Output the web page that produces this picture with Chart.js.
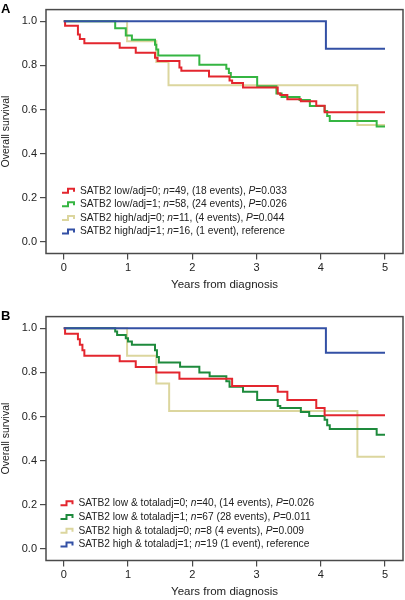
<!DOCTYPE html>
<html>
<head>
<meta charset="utf-8">
<script src="https://cdn.jsdelivr.net/npm/chart.js@4"></script>
<style>
  html, body { margin: 0; padding: 0; background: #fff; overflow: hidden; width: 405px; height: 600px; }
  .panel { position: absolute; left: 0; width: 405px; height: 300px; }
  #panel-a { top: 0; }
  #panel-b { top: 307px; }
</style>
</head>
<body>
<div class="panel" id="panel-a"><canvas id="chart-a" width="405" height="300"></canvas></div>
<div class="panel" id="panel-b"><canvas id="chart-b" width="405" height="300"></canvas></div>
<script>
// Kaplan-Meier curves (years, survival after each step)
const xTicks = [0, 1, 2, 3, 4, 5];
const yTicks = [0, 0.2, 0.4, 0.6, 0.8, 1.0];

// Panel A
const aLow0Time  = [0, 0.02, 0.22, 0.25, 0.32, 0.87, 1.12, 1.42, 1.46, 1.80, 1.83, 2.26, 2.58, 2.62, 2.79, 3.33, 3.37, 3.48, 3.69, 3.93, 4.06, 5.0];
const aLow0Surv  = [1, 0.98, 0.94, 0.92, 0.90, 0.88, 0.857, 0.835, 0.82, 0.79, 0.776, 0.75, 0.732, 0.72, 0.70, 0.673, 0.666, 0.647, 0.637, 0.617, 0.588, 0.588];
const aLow1Time  = [0, 0.80, 0.965, 1.06, 1.42, 1.44, 1.47, 2.11, 2.53, 2.57, 2.60, 3.01, 3.31, 3.39, 3.67, 3.83, 4.06, 4.10, 4.14, 4.87, 5.0];
const aLow1Surv  = [1, 0.968, 0.935, 0.916, 0.894, 0.872, 0.845, 0.803, 0.785, 0.765, 0.747, 0.705, 0.672, 0.657, 0.643, 0.616, 0.593, 0.57, 0.548, 0.523, 0.523];
const aHigh0Time = [0, 0.985, 1.44, 1.63, 4.57, 5.0];
const aHigh0Surv = [1, 0.909, 0.815, 0.71, 0.53, 0.53];
const aHigh1Time = [0, 4.08, 5.0];
const aHigh1Surv = [1, 0.875, 0.875];
const aLabels = [
  'SATB2 low/adj=0; n=49, (18 events), P=0.033',
  'SATB2 low/adj=1; n=58, (24 events), P=0.026',
  'SATB2 high/adj=0; n=11, (4 events), P=0.044',
  'SATB2 high/adj=1; n=16, (1 event), reference'
];

// Panel B
const bLow0Time  = [0, 0.02, 0.22, 0.25, 0.29, 0.32, 0.87, 1.12, 1.44, 1.80, 2.62, 3.33, 3.48, 3.93, 4.06, 5.0];
const bLow0Surv  = [1, 0.975, 0.95, 0.925, 0.90, 0.875, 0.85, 0.825, 0.80, 0.771, 0.738, 0.712, 0.675, 0.639, 0.606, 0.606];
const bLow1Time  = [0, 0.80, 0.83, 0.965, 1.00, 1.06, 1.42, 1.45, 1.48, 1.81, 2.11, 2.27, 2.53, 2.58, 2.79, 3.01, 3.33, 3.37, 3.69, 3.82, 4.06, 4.10, 4.14, 4.87, 5.0];
const bLow1Surv  = [1, 0.985, 0.97, 0.955, 0.94, 0.925, 0.90, 0.87, 0.845, 0.826, 0.80, 0.783, 0.76, 0.735, 0.712, 0.675, 0.648, 0.639, 0.62, 0.602, 0.585, 0.56, 0.543, 0.517, 0.517];
const bHigh0Time = [0, 0.985, 1.44, 1.64, 4.57, 5.0];
const bHigh0Surv = [1, 0.875, 0.75, 0.625, 0.417, 0.417];
const bHigh1Time = [0, 4.08, 5.0];
const bHigh1Surv = [1, 0.889, 0.889];
const bLabels = [
  'SATB2 low & totaladj=0; n=40, (14 events), P=0.026',
  'SATB2 low & totaladj=1; n=67 (28 events), P=0.011',
  'SATB2 high & totaladj=0; n=8 (4 events), P=0.009',
  'SATB2 high & totaladj=1; n=19 (1 event), reference'
];

const RED = '#e3262e', GREEN_A = '#35b542', GREEN_B = '#1e8a3c', KHAKI = '#dcd69e', BLUE = '#3350a5';
const FONT = '"Liberation Sans", Arial, Helvetica, sans-serif';
const INK = '#222';
const FRAME = '#4a4a4a';

function km(t, s) { return t.map((x, i) => ({ x, y: s[i] })); }

function curve(t, s, color) {
  return {
    data: km(t, s),
    borderColor: color,
    borderWidth: 2,
    stepped: true,
    pointRadius: 0,
    fill: false
  };
}

// box round the plot area, as in R
const frameBox = {
  id: 'frameBox',
  afterDatasetsDraw(chart) {
    const { ctx, chartArea: a } = chart;
    ctx.save();
    ctx.strokeStyle = FRAME;
    ctx.lineWidth = 1.5;
    ctx.strokeRect(a.left, a.top, a.right - a.left, a.bottom - a.top);
    ctx.restore();
  }
};

// legend with step glyphs and italic n / P
const stepLegend = {
  id: 'stepLegend',
  afterDraw(chart, args, opts) {
    const ctx = chart.ctx;
    ctx.save();
    ctx.textBaseline = 'middle';
    opts.rows.forEach((label, i) => {
      const y = opts.y + i * opts.gap;
      const x = opts.x;
      ctx.strokeStyle = opts.colors[i];
      ctx.lineWidth = 2;
      ctx.beginPath();
      ctx.moveTo(x, y + 2);
      ctx.lineTo(x + 6, y + 2);
      ctx.lineTo(x + 6, y - 2);
      ctx.lineTo(x + 12, y - 2);
      ctx.lineTo(x + 12, y + 1);
      ctx.stroke();
      let tx = x + opts.textGap;
      ctx.fillStyle = INK;
      label.split(/\b([nP])(?==)/).forEach((part, j) => {
        ctx.font = (j % 2 ? 'italic ' : '') + opts.size + 'px ' + FONT;
        ctx.fillText(part, tx, y);
        tx += ctx.measureText(part).width;
      });
    });
    // panel letter
    ctx.fillStyle = '#000';
    ctx.font = 'bold 13px ' + FONT;
    ctx.textBaseline = 'middle';
    ctx.fillText(opts.tag, 1, 9.5);
    ctx.restore();
  }
};

function axes() {
  const tickGrid = { drawOnChartArea: false, drawTicks: true, tickLength: 6, color: FRAME, lineWidth: 1.2 };
  return {
    x: {
      type: 'linear', min: -0.277, max: 5.28,
      afterBuildTicks: s => { s.ticks = xTicks.map(v => ({ value: v })); },
      afterFit: s => { s.height = 46.5; },
      grid: tickGrid,
      border: { display: false },
      ticks: { color: INK, font: { size: 11, family: FONT }, padding: 2, autoSkip: false, maxRotation: 0, callback: v => String(v) },
      title: { display: true, text: 'Years from diagnosis', color: INK, font: { size: 11.5, family: FONT }, padding: { top: 0, bottom: 8 } }
    },
    y: {
      type: 'linear', min: -0.053, max: 1.053,
      afterBuildTicks: s => { s.ticks = yTicks.map(v => ({ value: v })); },
      afterFit: s => { s.width = 46; },
      grid: tickGrid,
      border: { display: false },
      ticks: { color: INK, font: { size: 11, family: FONT }, padding: 3, autoSkip: false, callback: v => v.toFixed(1) },
      title: { display: true, text: 'Overall survival', color: INK, font: { size: 10.5, family: FONT }, padding: { top: 0, bottom: 0 } }
    }
  };
}

function buildPanel(id, datasets, legendOpts) {
  const ctx = document.getElementById(id).getContext('2d');
  return new Chart(ctx, {
    type: 'line',
    data: { datasets },
    options: {
      responsive: false,
      animation: false,
      events: [],
      layout: { padding: { top: 2, right: 2, left: 0, bottom: 0 } },
      plugins: { legend: { display: false }, tooltip: { enabled: false }, stepLegend: legendOpts },
      scales: axes()
    },
    plugins: [frameBox, stepLegend]
  });
}

buildPanel('chart-a', [
  curve(aHigh1Time, aHigh1Surv, BLUE),
  curve(aLow0Time, aLow0Surv, RED),
  curve(aLow1Time, aLow1Surv, GREEN_A),
  curve(aHigh0Time, aHigh0Surv, KHAKI)
], { tag: 'A', rows: aLabels, colors: [RED, GREEN_A, KHAKI, BLUE], x: 62, y: 190.7, gap: 13.6, textGap: 18, size: 10.2 });

buildPanel('chart-b', [
  curve(bHigh1Time, bHigh1Surv, BLUE),
  curve(bLow0Time, bLow0Surv, RED),
  curve(bLow1Time, bLow1Surv, GREEN_B),
  curve(bHigh0Time, bHigh0Surv, KHAKI)
], { tag: 'B', rows: bLabels, colors: [RED, GREEN_B, KHAKI, BLUE], x: 60.5, y: 196.3, gap: 13.7, textGap: 18, size: 10.2 });
</script>
</body>
</html>
